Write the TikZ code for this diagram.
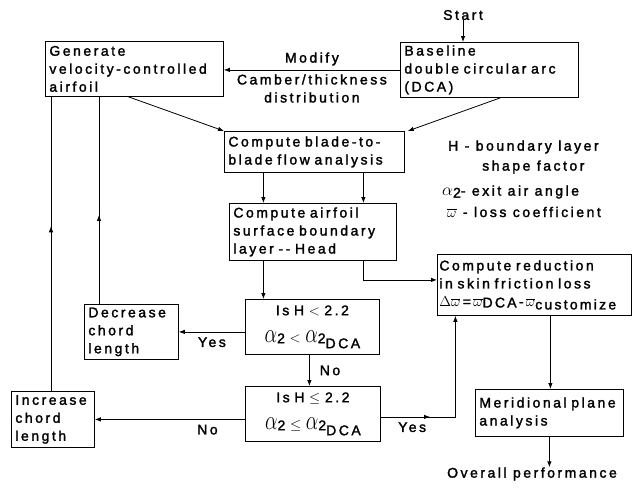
\documentclass[tikz,border=0pt]{standalone}
\usepackage{fontspec}
\setmainfont{Liberation Sans}[LetterSpace=18.0, FakeBold=1.8]
\usetikzlibrary{arrows.meta,decorations.markings,calc}
\newcommand{\bigal}{\scalebox{0.8}[1.1]{\fontsize{26}{26}\selectfont$\alpha$}}
\newcommand{\smal}{{\fontsize{19}{19}\selectfont$\alpha$}}
\newcommand{\omb}{$\overline{\omega}$}
\begin{document}
\begin{tikzpicture}[x=1pt,y=-1pt,
 every node/.style={font=\fontsize{14}{18}\selectfont, inner sep=0pt},
 box/.style={draw, line width=0.8pt, anchor=north west, align=left, inner xsep=4pt, inner ysep=0pt},
 arr/.style={line width=0.8pt, -{Latex[length=6pt,width=4.5pt]}},
 ln/.style={line width=0.8pt},
 midarr/.style={postaction={decorate}, decoration={markings, mark=at position #1 with {\arrow{Latex[length=6pt,width=4.5pt]}}}},
]
\useasboundingbox (0,0) rectangle (640,488);

\node[box, text width=170pt, minimum height=55pt] (gen) at (45,41) {Generate\\velocity-controlled\\airfoil};
\node[box, text width=170pt, minimum height=55pt] (base) at (400,42) {Baseline\\double circular arc\\(DCA)};
\node[box, text width=172pt, minimum height=41pt] (blade) at (224,131) {Compute blade-to-\\blade flow analysis};
\node[box, text width=159pt, minimum height=57pt] (surf) at (229,203) {Compute airfoil\\surface boundary\\layer -{}- Head};
\node[box, text width=190pt, minimum height=61pt, inner xsep=2pt] (red) at (437,254) {Compute reduction\\in skin friction loss\\{\addfontfeatures{LetterSpace=16.0}$\Delta$\omb\,=\,\omb\raisebox{-1pt}{DCA}\,-\,\omb\raisebox{-3pt}{customize}}};
\node[box, text width=86pt, minimum height=55pt] (dec) at (84,304) {Decrease\\chord\\length};
\node[box, text width=126pt, minimum height=55pt, align=center] (h1) at (245,299) {Is H $<$ 2.2\\[9pt] \bigal\raisebox{-1pt}{2} $<$ \bigal\raisebox{-1pt}{2}\raisebox{-6pt}{DCA}};
\node[box, text width=127pt, minimum height=55pt, align=center] (h2) at (245,386) {Is H $\leq$ 2.2\\[9pt] \bigal\raisebox{-1pt}{2} $\leq$ \bigal\raisebox{-1pt}{2}\raisebox{-6pt}{DCA}};
\node[box, text width=75pt, minimum height=56pt] (inc) at (11,391) {Increase\\chord\\length};
\node[box, text width=140pt, minimum height=47pt] (mer) at (475,389) {Meridional plane\\analysis};

\node (start) at (463,15) {Start};
\node (over) at (532,474) {Overall performance};
\node[anchor=west] (lh) at (448,147) {H - boundary layer};
\node[anchor=west] (ls) at (482,167) {shape factor};
\node[anchor=west] (la) at (442,192) {\smal\raisebox{-2pt}{2}- exit air angle};
\node[anchor=west] (lw) at (447,212) {\omb\ - loss coefficient};

\draw[arr] (start) -- (start |- base.north);
\draw[arr] (base.west) -- (gen.east |- base.west)
  node[midway, above=4pt] {Modify}
  node[midway, below=4pt, align=center] {Camber/thickness\\distribution};
\draw[arr] ([xshift=-6pt]gen.south) -- (blade.north west);
\draw[arr] ([xshift=11pt]base.south) -- ([xshift=3pt]blade.north east);
\draw[arr] ([xshift=-51pt]blade.south) -- ([xshift=-51pt]blade.south |- surf.north);
\draw[arr] ([xshift=49pt]blade.south) -- ([xshift=49pt]blade.south |- surf.north);
\draw[arr] ([xshift=-49.5pt]surf.south) -- ([xshift=-49.5pt]surf.south |- h1.north);
\draw[arr] ([xshift=50pt]surf.south) |- ([yshift=5pt]red.west);
\draw[arr] (dec.east -| h1.west) -- (dec.east) node[midway, below=5pt] {Yes};
\draw[arr] ([xshift=-3pt]h1.south) -- ([xshift=-3pt]h1.south |- h2.north) node[midway, right=10pt] {No};
\draw[ln, midarr=0.43] ([xshift=15pt]dec.north west) -- ([xshift=15pt]dec.north west |- gen.south);
\draw[ln, midarr=0.56] ([xshift=40pt]inc.north west) -- ([xshift=40pt]inc.north west |- gen.south);
\draw[arr] (inc.east -| h2.west) -- (inc.east) node[pos=0.25, below=5pt] {No};
\draw[arr, midarr=0.28] ([yshift=-3pt]h2.east) -| ([xshift=-79pt]red.south) node[pos=0.21, below=5pt] {Yes};
\draw[arr] ([xshift=16pt]red.south) -- ([xshift=16pt]red.south |- mer.north);
\draw[arr] (mer.south) -- (mer.south |- over.north);
\end{tikzpicture}
\end{document}
